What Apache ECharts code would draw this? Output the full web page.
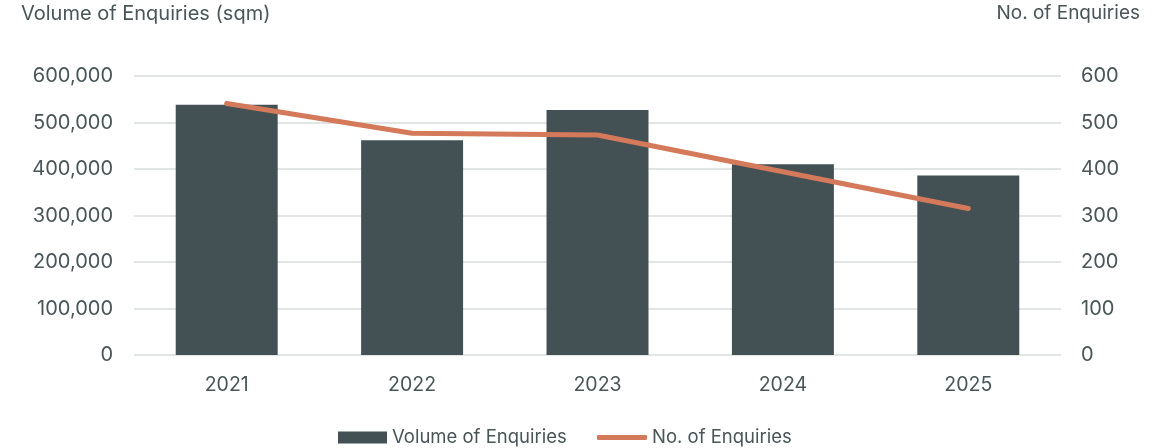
<!DOCTYPE html>
<html>
<head>
<meta charset="utf-8">
<script src="https://cdn.jsdelivr.net/npm/echarts@6/dist/echarts.min.js"></script>
<style>
  html, body { margin: 0; padding: 0; background: #fff; }
  #chart { width: 1168px; height: 448px; }
</style>
</head>
<body>
<div id="chart"></div>
<script>
// 数据
const years = ['2021', '2022', '2023', '2024', '2025'];
const volumeSqm = [538000, 462000, 527000, 410000, 386000];
const enquiryCount = [541, 477, 473, 394, 315];

const textColor = '#4a5558';
const fontFamily = 'Inter, Roboto, sans-serif';

const chart = echarts.init(document.getElementById('chart'));

const option = {
    animation: false,
    textStyle: { fontFamily: fontFamily },
    grid: { left: 134, right: 107, top: 76, bottom: 93 },
    graphic: [
        {
            type: 'text', left: 21, top: 4,
            style: { text: 'Volume of Enquiries (sqm)', fill: textColor, font: '20px ' + fontFamily }
        },
        {
            type: 'text', right: 28, top: 4,
            style: { text: 'No. of Enquiries', fill: textColor, font: '19px ' + fontFamily }
        }
    ],
    legend: [
        {
            data: [{ name: 'Volume of Enquiries', icon: 'rect' }],
            left: 333, top: 423,
            itemWidth: 49, itemHeight: 12,
            textStyle: { color: textColor, fontSize: 18.5 }
        },
        {
            data: [{ name: 'No. of Enquiries', icon: 'roundRect' }],
            left: 592, top: 423,
            itemWidth: 50, itemHeight: 5,
            textStyle: { color: textColor, fontSize: 18.5 }
        }
    ],
    xAxis: {
        type: 'category',
        data: years,
        axisLine: { show: false },
        axisTick: { show: false },
        axisLabel: { color: textColor, fontSize: 19.5, margin: 20 }
    },
    yAxis: [
        {
            type: 'value', min: 0, max: 600000, interval: 100000,
            axisLine: { show: false },
            axisTick: { show: false },
            splitLine: { lineStyle: { color: '#e1e6e5', width: 2 } },
            axisLabel: {
                color: textColor, fontSize: 20, margin: 21,
                formatter: v => v.toLocaleString('en-US')
            }
        },
        {
            type: 'value', min: 0, max: 600, interval: 100,
            axisLine: { show: false },
            axisTick: { show: false },
            splitLine: { show: false },
            axisLabel: { color: textColor, fontSize: 20, margin: 20 }
        }
    ],
    series: [
        {
            name: 'Volume of Enquiries',
            type: 'bar',
            data: volumeSqm,
            barWidth: '55%',
            itemStyle: { color: '#435155' }
        },
        {
            name: 'No. of Enquiries',
            type: 'line',
            yAxisIndex: 1,
            data: enquiryCount,
            showSymbol: false,
            symbol: 'none',
            lineStyle: { color: '#d4795a', width: 5, cap: 'round', join: 'round' },
            itemStyle: { color: '#d4795a' }
        }
    ]
};

chart.setOption(option);
</script>
</body>
</html>
